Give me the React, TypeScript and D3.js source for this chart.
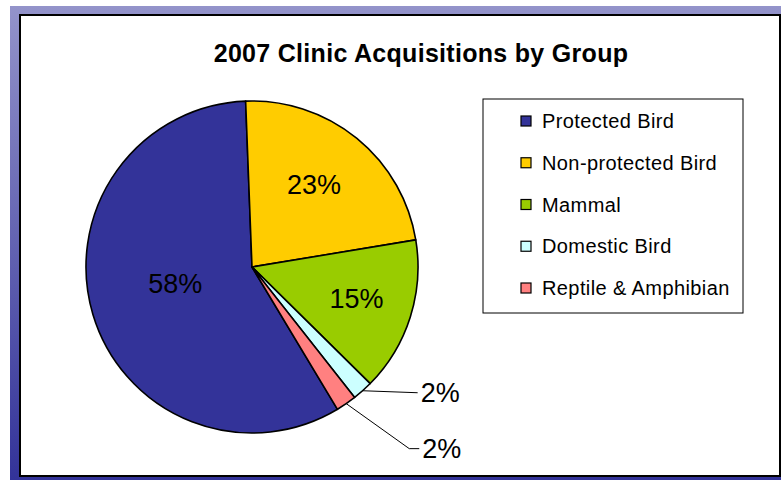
import React, { useEffect, useRef } from 'react';
import * as d3 from 'd3';

// chart data
const categories = ['Protected Bird', 'Non-protected Bird', 'Mammal', 'Domestic Bird', 'Reptile & Amphibian'];
const shares = [58, 23, 15, 2, 2];
const sliceColors = ['#333399', '#ffcc00', '#99cc00', '#ccffff', '#ff8080'];
const percentLabels = ['58%', '23%', '15%', '2%', '2%'];
const title = '2007 Clinic Acquisitions by Group';

const W = 781;
const H = 480;

const App = () => {
  const ref = useRef<SVGSVGElement | null>(null);

  useEffect(() => {
    const svg = d3.select(ref.current);
    svg.selectAll('*').remove();

    // gradient frame
    const defs = svg.append('defs');
    const grad = defs
      .append('linearGradient')
      .attr('id', 'frameGrad')
      .attr('x1', 0)
      .attr('y1', 0)
      .attr('x2', 0)
      .attr('y2', 1);
    grad.append('stop').attr('offset', '0%').attr('stop-color', '#9393ca');
    grad.append('stop').attr('offset', '100%').attr('stop-color', '#333399');

    svg.append('rect').attr('x', 10).attr('y', 6).attr('width', W - 10).attr('height', H - 6).attr('fill', 'url(#frameGrad)');

    svg
      .append('rect')
      .attr('x', 20)
      .attr('y', 15)
      .attr('width', 760)
      .attr('height', 461)
      .attr('fill', '#ffffff')
      .attr('stroke', '#000000')
      .attr('stroke-width', 2);

    // title
    svg
      .append('text')
      .attr('x', 421)
      .attr('y', 62)
      .attr('text-anchor', 'middle')
      .style('font-family', '"Liberation Sans", Arial, sans-serif')
      .style('font-weight', 'bold')
      .style('font-size', '25px')
      .style('letter-spacing', '0.3px')
      .attr('fill', '#000')
      .text(title);

    // pie
    const cx = 252;
    const cy = 267;
    const r = 166;
    const start = (149 * Math.PI) / 180;

    const pie = d3
      .pie<number>()
      .sort(null)
      .value((d) => d)
      .startAngle(start)
      .endAngle(start + 2 * Math.PI);
    const arcs = pie(shares);
    const arc = d3.arc<d3.PieArcDatum<number>>().innerRadius(0).outerRadius(r);

    const g = svg.append('g').attr('transform', `translate(${cx},${cy})`);

    g.selectAll('path.slice')
      .data(arcs)
      .enter()
      .append('path')
      .attr('class', 'slice')
      .attr('d', arc)
      .attr('fill', (d, i) => sliceColors[i])
      .attr('stroke', '#000')
      .attr('stroke-width', 1.6)
      .attr('stroke-linejoin', 'round');

    const labelFont = '"Liberation Sans", Arial, sans-serif';

    // inside labels (best-fit nudges)
    const insideRadius = [0.47, 0.63, 0.66];
    const nudge: [number, number][] = [[-2, -6], [-4, -2], [0, -2]];
    arcs.forEach((d, i) => {
      if (i > 2) return;
      const rr = r * insideRadius[i];
      const [lx, ly] = d3.arc<d3.PieArcDatum<number>>().innerRadius(rr).outerRadius(rr).centroid(d);
      g.append('text')
        .attr('x', lx + nudge[i][0])
        .attr('y', ly + nudge[i][1])
        .attr('dy', '0.36em')
        .attr('text-anchor', 'middle')
        .style('font-family', labelFont)
        .style('font-size', '27px')
        .attr('fill', '#000')
        .text(percentLabels[i]);
    });

    // outside labels with leader lines
    const callouts: Record<number, { bend: [number, number]; tail: number }> = {
      3: { bend: [55, 2], tail: 0 },
      4: { bend: [63, 45], tail: 10 },
    };
    arcs.forEach((d, i) => {
      const c = callouts[i];
      if (!c) return;
      const [ex, ey] = d3.arc<d3.PieArcDatum<number>>().innerRadius(r).outerRadius(r).centroid(d);
      const bx = ex + c.bend[0];
      const by = ey + c.bend[1];
      const tx = bx + c.tail;
      g.append('path')
        .attr('d', d3.line()([[ex, ey], [bx, by], [tx, by]]))
        .attr('fill', 'none')
        .attr('stroke', '#000')
        .attr('stroke-width', 1);
      g.append('text')
        .attr('x', tx + 3)
        .attr('y', by)
        .attr('dy', '0.36em')
        .style('font-family', labelFont)
        .style('font-size', '27px')
        .attr('fill', '#000')
        .text(percentLabels[i]);
    });

    // legend
    const legend = svg.append('g').attr('transform', 'translate(483,99)');
    legend
      .append('rect')
      .attr('width', 260)
      .attr('height', 214)
      .attr('fill', '#fff')
      .attr('stroke', '#000')
      .attr('stroke-width', 1);

    const rowY = d3.scalePoint<string>().domain(categories).range([22, 189]);
    const item = legend
      .selectAll('g.item')
      .data(categories)
      .enter()
      .append('g')
      .attr('class', 'item')
      .attr('transform', (d) => `translate(0,${rowY(d)})`);
    item
      .append('rect')
      .attr('x', 38)
      .attr('y', -5)
      .attr('width', 10)
      .attr('height', 10)
      .attr('fill', (d, i) => sliceColors[i])
      .attr('stroke', '#000')
      .attr('stroke-width', 1.2);
    item
      .append('text')
      .attr('x', 59)
      .attr('dy', '0.36em')
      .style('font-family', labelFont)
      .style('font-size', '20px')
      .style('letter-spacing', '0.4px')
      .attr('fill', '#000')
      .text((d) => d);
  }, []);

  return (
    <svg
      ref={ref}
      width={W}
      height={H}
      style={{ position: 'absolute', left: 0, top: 0, display: 'block', background: '#fff' }}
    />
  );
};

export default App;
